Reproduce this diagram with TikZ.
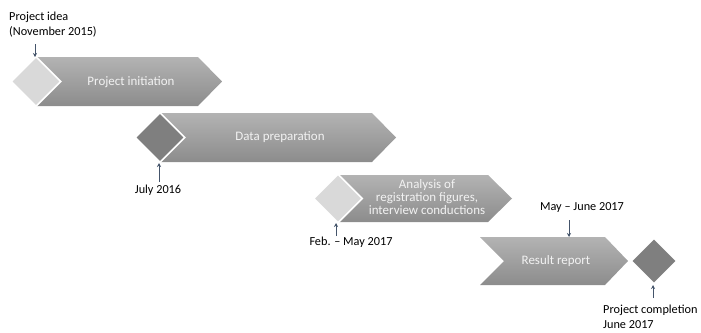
\documentclass[tikz,border=0pt]{standalone}
\usepackage{fontspec}
\setmainfont{Carlito}
\usetikzlibrary{shapes.geometric,arrows.meta}
\definecolor{boxtop}{HTML}{B3B3B3}
\definecolor{boxbot}{HTML}{8C8C8C}
\definecolor{lightdia}{HTML}{D9D9D9}
\definecolor{darkdia}{HTML}{7F7F7F}
\definecolor{arrcol}{HTML}{44546A}
\definecolor{boxtext}{HTML}{F2F2F2}
\tikzset{
  stagebox/.style={top color=boxtop, bottom color=boxbot, draw=none},
  milestone/.style={diamond, aspect=1, inner sep=0pt, draw=white, line width=1.6bp},
  boxlabel/.style={text=boxtext, font=\fontsize{13}{13}\selectfont, align=center, inner sep=0pt},
  datelabel/.style={text=black, font=\fontsize{12.3}{15}\selectfont, inner sep=0pt},
  pointer/.style={draw=arrcol, line width=0.8bp, -{Stealth[length=4bp,width=4bp]}},
}
\begin{document}
\begin{tikzpicture}[x=1bp,y=-1bp]
\useasboundingbox (0,0) rectangle (701,332);
% stage 1
\shade[stagebox] (36,57) -- (198,57) -- (222,81.5) -- (198,106) -- (36,106) -- cycle;
\node[milestone, fill=lightdia, minimum width=50bp, minimum height=50bp] (d1) at (36,81.5) {};
\node[boxlabel] (t1) at (131,82) {Project initiation};
% stage 2
\shade[stagebox] (160,113) -- (372,113) -- (396,137.5) -- (372,162) -- (160,162) -- cycle;
\node[milestone, fill=darkdia, minimum width=50bp, minimum height=50bp] (d2) at (160,137.5) {};
\node[boxlabel] (t2) at (280,137) {Data preparation};
% stage 3
\shade[stagebox] (338,175) -- (488,175) -- (512,198.5) -- (488,222) -- (338,222) -- cycle;
\node[milestone, fill=lightdia, minimum width=49bp, minimum height=49bp] (d3) at (338,198.5) {};
\node[boxlabel] (t3) at (427,197) {Analysis of\\registration figures,\\interview conductions};
% stage 4
\shade[stagebox] (480,237) -- (605,237) -- (628,261) -- (605,285) -- (480,285) -- (504,261) -- cycle;
\coordinate (c4) at (569,237);
\node[boxlabel] (t4) at (556,261) {Result report};
\node[milestone, fill=darkdia, minimum width=46bp, minimum height=46bp] (d4) at (654,261) {};
% labels
\node[datelabel, anchor=west, align=left] (l1) at (9,24.5) {Project idea\\(November 2015)};
\node[datelabel] (l2) at (158,190) {July 2016};
\node[datelabel] (l3) at (351,242) {Feb. -- May 2017};
\node[datelabel] (l4) at (582,208) {May -- June 2017};
\node[datelabel, anchor=west, align=left] (l5) at (603,317) {Project completion\\June 2017};
% pointers
\coordinate (s1) at (35,44);
\coordinate (e1) at (35,57);
\coordinate (s2) at (159,182);
\coordinate (e2) at (159,163);
\coordinate (s3) at (336,236);
\coordinate (e3) at (336,223);
\coordinate (s4) at (569,220);
\coordinate (s5) at (653,298);
\coordinate (e5) at (653,285);
\draw[pointer] (s1) -- (e1);
\draw[pointer] (s2) -- (e2);
\draw[pointer] (s3) -- (e3);
\draw[pointer] (s4) -- (c4);
\draw[pointer] (s5) -- (e5);
\end{tikzpicture}
\end{document}
